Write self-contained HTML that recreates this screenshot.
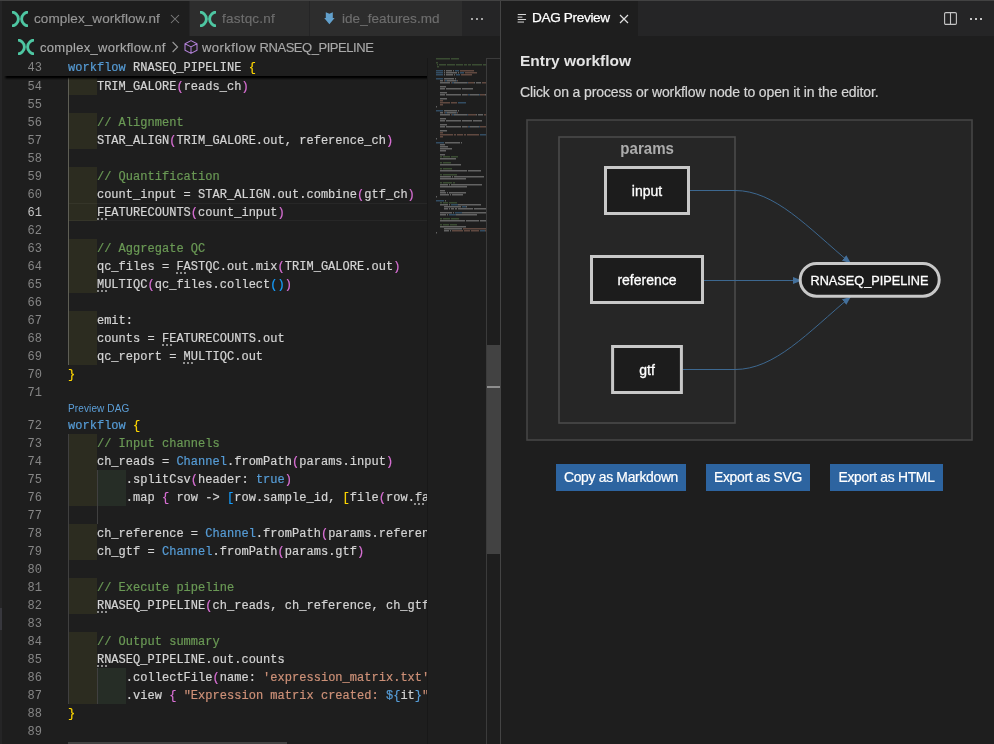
<!DOCTYPE html>
<html><head><meta charset="utf-8"><style>
*{margin:0;padding:0;box-sizing:border-box}
html,body{width:994px;height:744px;overflow:hidden;background:#1e1e1e}
body{position:relative;font-family:"Liberation Sans",sans-serif}
.abs{position:absolute}
.ln{position:absolute;left:0;width:42px;text-align:right;font-family:"Liberation Mono",monospace;font-size:12px;line-height:18px;color:#858585;white-space:pre}
.cl{position:absolute;left:68px;font-family:"Liberation Mono",monospace;font-size:12px;line-height:18px;color:#d4d4d4;white-space:pre;-webkit-text-stroke:0.2px currentColor;letter-spacing:0.024px}
.r1{position:absolute;left:68px;width:29px;height:18px;background:#2c2c20}
.r2{position:absolute;left:97px;width:29px;height:18px;background:#262d26}
.g{position:absolute;width:1px;background:#404040}
.dots{position:absolute;height:2px;width:11px;background:repeating-linear-gradient(90deg,#909090 0 2px,transparent 2px 4px)}
.tabt{position:absolute;font-size:13px;white-space:pre;line-height:16px;-webkit-text-stroke:0.15px currentColor}
.ui{-webkit-text-stroke:0.2px currentColor}
</style></head><body><div id="root" style="position:absolute;left:0;top:0;width:994px;height:744px;background:#1e1e1e;will-change:transform">

<div class="abs" style="left:0;top:0;width:994px;height:1px;background:#424242"></div>
<div class="abs" style="left:0;top:1px;width:2px;height:743px;background:#252526"></div>
<div class="abs" style="left:0;top:608px;width:2px;height:22px;background:#37373d"></div>
<div class="abs" style="left:2px;top:1px;width:498px;height:35px;background:#252526"></div>
<div class="abs" style="left:2px;top:1px;width:187px;height:35px;background:#1e1e1e"></div>
<div class="abs" style="left:190px;top:1px;width:119px;height:35px;background:#2d2d2d"></div>
<div class="abs" style="left:310px;top:1px;width:152px;height:35px;background:#2d2d2d"></div>
<svg class="abs" style="left:12px;top:11px" width="16" height="16" viewBox="0 0 16 16"><path d="M-1 1.1A6.917 6.917 0 1 1 -1 14.9M17 1.1A6.917 6.917 0 1 0 17 14.9" fill="none" stroke="#4ec6a2" stroke-width="2.9"/></svg>
<div class="tabt" style="left:34px;top:10.5px;color:#969696;font-size:13.5px;letter-spacing:0.07px">complex_workflow.nf</div>
<svg class="abs" style="left:169.6px;top:14.2px" width="10" height="10" viewBox="0 0 10 10"><path d="M1 1L9 9M9 1L1 9" stroke="#7c7c7c" stroke-width="1.05"/></svg>
<svg class="abs" style="left:200px;top:11px" width="16" height="16" viewBox="0 0 16 16"><path d="M-1 1.1A6.917 6.917 0 1 1 -1 14.9M17 1.1A6.917 6.917 0 1 0 17 14.9" fill="none" stroke="#4ec6a2" stroke-width="2.9"/></svg>
<div class="tabt" style="left:222px;top:10.5px;color:#6e6e6e;font-size:13.5px;letter-spacing:0.22px">fastqc.nf</div>
<svg class="abs" style="left:318px;top:8px" width="24" height="22" viewBox="0 0 24 22"><path d="M7.8 4.3L11.4 5.7L14.8 4.3V10H16.6L11.4 16.2L6.2 10H7.8Z" fill="#62a0cc"/></svg>
<div class="tabt" style="left:342px;top:10.5px;color:#6e6e6e;font-size:13.5px;letter-spacing:0.05px">ide_features.md</div>
<div class="abs" style="left:471px;top:18px;width:2px;height:2px;background:#a6a6a6"></div><div class="abs" style="left:476px;top:18px;width:2px;height:2px;background:#a6a6a6"></div><div class="abs" style="left:481px;top:18px;width:2px;height:2px;background:#a6a6a6"></div>
<svg class="abs" style="left:18px;top:39px" width="16" height="16" viewBox="0 0 16 16"><path d="M-1 1.1A6.917 6.917 0 1 1 -1 14.9M17 1.1A6.917 6.917 0 1 0 17 14.9" fill="none" stroke="#4ec6a2" stroke-width="2.9"/></svg>
<div class="tabt" style="left:40px;top:40px;color:#a9a9a9;letter-spacing:0.3px">complex_workflow.nf</div>
<svg class="abs" style="left:171px;top:41px" width="9" height="12" viewBox="0 0 9 12"><path d="M1.6 1L6.6 6L1.6 11" fill="none" stroke="#9a9a9a" stroke-width="1.1"/></svg>
<svg class="abs" style="left:184px;top:40px" width="14" height="14" viewBox="0 0 14 14"><path d="M7 0.6L13 3.8V10.2L7 13.4L1 10.2V3.8Z M1 3.8L7 6.9L13 3.8 M7 6.9V13.4" fill="none" stroke="#b180d7" stroke-width="1.05" stroke-linejoin="round"/></svg>
<div class="tabt" style="left:202px;top:40px;color:#a9a9a9;letter-spacing:0.43px">workflow</div>
<div class="tabt" style="left:259.6px;top:40px;color:#a9a9a9;letter-spacing:-0.46px">RNASEQ_PIPELINE</div>
<div class="abs" style="left:2px;top:58px;width:426px;height:686px;overflow:hidden">
<div class="r1" style="left:66px;top:19px"></div>
<div class="r1" style="left:66px;top:55px"></div>
<div class="r1" style="left:66px;top:73px"></div>
<div class="r1" style="left:66px;top:109px"></div>
<div class="r1" style="left:66px;top:127px"></div>
<div class="r1" style="left:66px;top:145px"></div>
<div class="r1" style="left:66px;top:181px"></div>
<div class="r1" style="left:66px;top:199px"></div>
<div class="r1" style="left:66px;top:217px"></div>
<div class="r1" style="left:66px;top:253px"></div>
<div class="r1" style="left:66px;top:271px"></div>
<div class="r1" style="left:66px;top:289px"></div>
<div class="r1" style="left:66px;top:376px"></div>
<div class="r1" style="left:66px;top:394px"></div>
<div class="r1" style="left:66px;top:412px"></div>
<div class="r2" style="left:95px;top:412px"></div>
<div class="r1" style="left:66px;top:430px"></div>
<div class="r2" style="left:95px;top:430px"></div>
<div class="r1" style="left:66px;top:466px"></div>
<div class="r1" style="left:66px;top:484px"></div>
<div class="r1" style="left:66px;top:520px"></div>
<div class="r1" style="left:66px;top:538px"></div>
<div class="r1" style="left:66px;top:574px"></div>
<div class="r1" style="left:66px;top:592px"></div>
<div class="r1" style="left:66px;top:610px"></div>
<div class="r2" style="left:95px;top:610px"></div>
<div class="r1" style="left:66px;top:628px"></div>
<div class="r2" style="left:95px;top:628px"></div>
<div class="g" style="left:66px;top:19px;height:288px;background:#5e5e55"></div>
<div class="g" style="left:66px;top:376px;height:270px"></div>
<div class="g" style="left:95px;top:412px;height:54px"></div>
<div class="g" style="left:95px;top:610px;height:36px"></div>
<div class="abs" style="left:67px;top:145px;width:500px;height:18px;border-top:1px solid rgba(255,255,255,0.045);border-bottom:1px solid rgba(255,255,255,0.045)"></div>
<div class="ln" style="top:20px;width:40px;color:#858585">54</div>
<div class="cl" style="left:66px;top:20px"><span style="color:#d4d4d4">    TRIM_GALORE</span><span style="color:#da70d6">(</span><span style="color:#d4d4d4">reads_ch</span><span style="color:#da70d6">)</span></div>
<div class="ln" style="top:38px;width:40px;color:#858585">55</div>
<div class="ln" style="top:56px;width:40px;color:#858585">56</div>
<div class="cl" style="left:66px;top:56px"><span style="color:#6a9955">    // Alignment</span></div>
<div class="ln" style="top:74px;width:40px;color:#858585">57</div>
<div class="cl" style="left:66px;top:74px"><span style="color:#d4d4d4">    STAR_ALIGN</span><span style="color:#da70d6">(</span><span style="color:#d4d4d4">TRIM_GALORE.out, reference_ch</span><span style="color:#da70d6">)</span></div>
<div class="ln" style="top:92px;width:40px;color:#858585">58</div>
<div class="ln" style="top:110px;width:40px;color:#858585">59</div>
<div class="cl" style="left:66px;top:110px"><span style="color:#6a9955">    // Quantification</span></div>
<div class="ln" style="top:128px;width:40px;color:#858585">60</div>
<div class="cl" style="left:66px;top:128px"><span style="color:#d4d4d4">    count_input = STAR_ALIGN.out.combine</span><span style="color:#da70d6">(</span><span style="color:#d4d4d4">gtf_ch</span><span style="color:#da70d6">)</span></div>
<div class="ln" style="top:146px;width:40px;color:#c6c6c6">61</div>
<div class="cl" style="left:66px;top:146px"><span style="color:#d4d4d4">    FEATURECOUNTS</span><span style="color:#da70d6">(</span><span style="color:#d4d4d4">count_input</span><span style="color:#da70d6">)</span></div>
<div class="ln" style="top:164px;width:40px;color:#858585">62</div>
<div class="ln" style="top:182px;width:40px;color:#858585">63</div>
<div class="cl" style="left:66px;top:182px"><span style="color:#6a9955">    // Aggregate QC</span></div>
<div class="ln" style="top:200px;width:40px;color:#858585">64</div>
<div class="cl" style="left:66px;top:200px"><span style="color:#d4d4d4">    qc_files = FASTQC.out.mix</span><span style="color:#da70d6">(</span><span style="color:#d4d4d4">TRIM_GALORE.out</span><span style="color:#da70d6">)</span></div>
<div class="ln" style="top:218px;width:40px;color:#858585">65</div>
<div class="cl" style="left:66px;top:218px"><span style="color:#d4d4d4">    MULTIQC</span><span style="color:#da70d6">(</span><span style="color:#d4d4d4">qc_files.collect</span><span style="color:#179fff">()</span><span style="color:#da70d6">)</span></div>
<div class="ln" style="top:236px;width:40px;color:#858585">66</div>
<div class="ln" style="top:254px;width:40px;color:#858585">67</div>
<div class="cl" style="left:66px;top:254px"><span style="color:#d4d4d4">    emit:</span></div>
<div class="ln" style="top:272px;width:40px;color:#858585">68</div>
<div class="cl" style="left:66px;top:272px"><span style="color:#d4d4d4">    counts = FEATURECOUNTS.out</span></div>
<div class="ln" style="top:290px;width:40px;color:#858585">69</div>
<div class="cl" style="left:66px;top:290px"><span style="color:#d4d4d4">    qc_report = MULTIQC.out</span></div>
<div class="ln" style="top:308px;width:40px;color:#858585">70</div>
<div class="cl" style="left:66px;top:308px"><span style="color:#ffd700">}</span></div>
<div class="ln" style="top:326px;width:40px;color:#858585">71</div>
<div class="ln" style="top:359px;width:40px;color:#858585">72</div>
<div class="cl" style="left:66px;top:359px"><span style="color:#569cd6">workflow</span><span style="color:#d4d4d4"> </span><span style="color:#ffd700">{</span></div>
<div class="ln" style="top:377px;width:40px;color:#858585">73</div>
<div class="cl" style="left:66px;top:377px"><span style="color:#6a9955">    // Input channels</span></div>
<div class="ln" style="top:395px;width:40px;color:#858585">74</div>
<div class="cl" style="left:66px;top:395px"><span style="color:#d4d4d4">    ch_reads = </span><span style="color:#569cd6">Channel</span><span style="color:#d4d4d4">.fromPath</span><span style="color:#da70d6">(</span><span style="color:#d4d4d4">params.input</span><span style="color:#da70d6">)</span></div>
<div class="ln" style="top:413px;width:40px;color:#858585">75</div>
<div class="cl" style="left:66px;top:413px"><span style="color:#d4d4d4">        .splitCsv</span><span style="color:#da70d6">(</span><span style="color:#d4d4d4">header: </span><span style="color:#569cd6">true</span><span style="color:#da70d6">)</span></div>
<div class="ln" style="top:431px;width:40px;color:#858585">76</div>
<div class="cl" style="left:66px;top:431px"><span style="color:#d4d4d4">        .map </span><span style="color:#da70d6">{</span><span style="color:#d4d4d4"> row -&gt; </span><span style="color:#179fff">[</span><span style="color:#d4d4d4">row.sample_id, </span><span style="color:#ffd700">[</span><span style="color:#d4d4d4">file</span><span style="color:#da70d6">(</span><span style="color:#d4d4d4">row.fa</span></div>
<div class="ln" style="top:449px;width:40px;color:#858585">77</div>
<div class="ln" style="top:467px;width:40px;color:#858585">78</div>
<div class="cl" style="left:66px;top:467px"><span style="color:#d4d4d4">    ch_reference = </span><span style="color:#569cd6">Channel</span><span style="color:#d4d4d4">.fromPath</span><span style="color:#da70d6">(</span><span style="color:#d4d4d4">params.referen</span></div>
<div class="ln" style="top:485px;width:40px;color:#858585">79</div>
<div class="cl" style="left:66px;top:485px"><span style="color:#d4d4d4">    ch_gtf = </span><span style="color:#569cd6">Channel</span><span style="color:#d4d4d4">.fromPath</span><span style="color:#da70d6">(</span><span style="color:#d4d4d4">params.gtf</span><span style="color:#da70d6">)</span></div>
<div class="ln" style="top:503px;width:40px;color:#858585">80</div>
<div class="ln" style="top:521px;width:40px;color:#858585">81</div>
<div class="cl" style="left:66px;top:521px"><span style="color:#6a9955">    // Execute pipeline</span></div>
<div class="ln" style="top:539px;width:40px;color:#858585">82</div>
<div class="cl" style="left:66px;top:539px"><span style="color:#d4d4d4">    RNASEQ_PIPELINE</span><span style="color:#da70d6">(</span><span style="color:#d4d4d4">ch_reads, ch_reference, ch_gtf</span></div>
<div class="ln" style="top:557px;width:40px;color:#858585">83</div>
<div class="ln" style="top:575px;width:40px;color:#858585">84</div>
<div class="cl" style="left:66px;top:575px"><span style="color:#6a9955">    // Output summary</span></div>
<div class="ln" style="top:593px;width:40px;color:#858585">85</div>
<div class="cl" style="left:66px;top:593px"><span style="color:#d4d4d4">    RNASEQ_PIPELINE.out.counts</span></div>
<div class="ln" style="top:611px;width:40px;color:#858585">86</div>
<div class="cl" style="left:66px;top:611px"><span style="color:#d4d4d4">        .collectFile</span><span style="color:#da70d6">(</span><span style="color:#d4d4d4">name: </span><span style="color:#ce9178">&#x27;expression_matrix.txt&#x27;</span></div>
<div class="ln" style="top:629px;width:40px;color:#858585">87</div>
<div class="cl" style="left:66px;top:629px"><span style="color:#d4d4d4">        .view </span><span style="color:#da70d6">{</span><span style="color:#d4d4d4"> </span><span style="color:#ce9178">&quot;Expression matrix created: </span><span style="color:#569cd6">${</span><span style="color:#d4d4d4">it</span><span style="color:#569cd6">}</span><span style="color:#ce9178">&quot;</span></div>
<div class="ln" style="top:647px;width:40px;color:#858585">88</div>
<div class="cl" style="left:66px;top:647px"><span style="color:#ffd700">}</span></div>
<div class="ln" style="top:665px;width:40px;color:#858585">89</div>
<div class="dots" style="left:94.5px;top:160px"></div>
<div class="dots" style="left:174.0px;top:214px"></div>
<div class="dots" style="left:94.5px;top:232px"></div>
<div class="dots" style="left:159.5px;top:286px"></div>
<div class="dots" style="left:181.2px;top:304px"></div>
<div class="dots" style="left:412.4px;top:445px"></div>
<div class="dots" style="left:94.5px;top:553px"></div>
<div class="dots" style="left:94.5px;top:607px"></div>
<div class="abs" style="left:66px;top:343px;font-size:10px;line-height:15px;color:#5c9fd8;white-space:pre;letter-spacing:0.12px">Preview DAG</div>
<div class="abs" style="left:0;top:0;width:426px;height:18px;background:#1e1e1e"></div>
<div class="abs" style="left:2px;top:18px;width:430px;height:4px;background:linear-gradient(180deg,#000 0,#000 1.2px,rgba(0,0,0,0.55) 2.2px,rgba(0,0,0,0) 4px);-webkit-mask-image:linear-gradient(90deg,transparent 0,#000 3px)"></div>
<div class="ln" style="top:1px;width:40px">43</div>
<div class="cl" style="left:66px;top:1px"><span style="color:#569cd6">workflow</span> RNASEQ_PIPELINE <span style="color:#ffd700">{</span></div>
<div class="abs" style="left:66px;top:684px;width:219px;height:4px;background:#424242"></div>
</div>
<div class="abs" style="left:427px;top:58px;width:1px;height:686px;background:#181818"></div>
<svg class="abs" style="left:430px;top:58px" width="56" height="200" viewBox="0 0 56 200">
<rect x="6" y="0" width="14" height="1.5" fill="#6a9955" opacity="0.38"/>
<rect x="21" y="0" width="8" height="1.5" fill="#6a9955" opacity="0.38"/>
<rect x="6" y="4" width="2" height="1.5" fill="#6a9955" opacity="0.38"/>
<rect x="7" y="6" width="1" height="1.5" fill="#6a9955" opacity="0.38"/>
<rect x="9" y="6" width="7" height="1.5" fill="#6a9955" opacity="0.38"/>
<rect x="17" y="6" width="8" height="1.5" fill="#6a9955" opacity="0.38"/>
<rect x="26" y="6" width="7" height="1.5" fill="#6a9955" opacity="0.38"/>
<rect x="34" y="6" width="3" height="1.5" fill="#6a9955" opacity="0.38"/>
<rect x="38" y="6" width="3" height="1.5" fill="#6a9955" opacity="0.38"/>
<rect x="42" y="6" width="10" height="1.5" fill="#6a9955" opacity="0.38"/>
<rect x="53" y="6" width="7" height="1.5" fill="#6a9955" opacity="0.38"/>
<rect x="7" y="8" width="2" height="1.5" fill="#6a9955" opacity="0.38"/>
<rect x="6" y="12" width="7" height="1.5" fill="#569cd6" opacity="0.38"/>
<rect x="14" y="12" width="1" height="1.5" fill="#d4d4d4" opacity="0.38"/>
<rect x="16" y="12" width="6" height="1.5" fill="#d4d4d4" opacity="0.38"/>
<rect x="23" y="12" width="1" height="1.5" fill="#d4d4d4" opacity="0.38"/>
<rect x="25" y="12" width="4" height="1.5" fill="#569cd6" opacity="0.38"/>
<rect x="30" y="12" width="14" height="1.5" fill="#ce9178" opacity="0.38"/>
<rect x="6" y="14" width="7" height="1.5" fill="#569cd6" opacity="0.38"/>
<rect x="14" y="14" width="1" height="1.5" fill="#d4d4d4" opacity="0.38"/>
<rect x="16" y="14" width="11" height="1.5" fill="#d4d4d4" opacity="0.38"/>
<rect x="28" y="14" width="1" height="1.5" fill="#d4d4d4" opacity="0.38"/>
<rect x="30" y="14" width="4" height="1.5" fill="#569cd6" opacity="0.38"/>
<rect x="35" y="14" width="12" height="1.5" fill="#ce9178" opacity="0.38"/>
<rect x="6" y="16" width="7" height="1.5" fill="#569cd6" opacity="0.38"/>
<rect x="14" y="16" width="1" height="1.5" fill="#d4d4d4" opacity="0.38"/>
<rect x="16" y="16" width="7" height="1.5" fill="#d4d4d4" opacity="0.38"/>
<rect x="24" y="16" width="1" height="1.5" fill="#d4d4d4" opacity="0.38"/>
<rect x="26" y="16" width="4" height="1.5" fill="#569cd6" opacity="0.38"/>
<rect x="31" y="16" width="11" height="1.5" fill="#ce9178" opacity="0.38"/>
<rect x="6" y="20" width="7" height="1.5" fill="#569cd6" opacity="0.38"/>
<rect x="14" y="20" width="10" height="1.5" fill="#d4d4d4" opacity="0.38"/>
<rect x="25" y="20" width="1" height="1.5" fill="#d4d4d4" opacity="0.38"/>
<rect x="10" y="22" width="3" height="1.5" fill="#d4d4d4" opacity="0.38"/>
<rect x="14" y="22" width="1" height="1.5" fill="#ce9178" opacity="0.38"/>
<rect x="15" y="22" width="2" height="1.5" fill="#569cd6" opacity="0.38"/>
<rect x="17" y="22" width="9" height="1.5" fill="#d4d4d4" opacity="0.38"/>
<rect x="26" y="22" width="1" height="1.5" fill="#569cd6" opacity="0.38"/>
<rect x="27" y="22" width="1" height="1.5" fill="#ce9178" opacity="0.38"/>
<rect x="10" y="24" width="10" height="1.5" fill="#d4d4d4" opacity="0.38"/>
<rect x="21" y="24" width="1" height="1.5" fill="#ce9178" opacity="0.38"/>
<rect x="22" y="24" width="2" height="1.5" fill="#569cd6" opacity="0.38"/>
<rect x="24" y="24" width="13" height="1.5" fill="#d4d4d4" opacity="0.38"/>
<rect x="37" y="24" width="1" height="1.5" fill="#569cd6" opacity="0.38"/>
<rect x="38" y="24" width="6" height="1.5" fill="#ce9178" opacity="0.38"/>
<rect x="44" y="24" width="1" height="1.5" fill="#d4d4d4" opacity="0.38"/>
<rect x="46" y="24" width="5" height="1.5" fill="#d4d4d4" opacity="0.38"/>
<rect x="52" y="24" width="6" height="1.5" fill="#ce9178" opacity="0.38"/>
<rect x="10" y="28" width="6" height="1.5" fill="#d4d4d4" opacity="0.38"/>
<rect x="10" y="30" width="5" height="1.5" fill="#d4d4d4" opacity="0.38"/>
<rect x="16" y="30" width="15" height="1.5" fill="#d4d4d4" opacity="0.38"/>
<rect x="32" y="30" width="11" height="1.5" fill="#d4d4d4" opacity="0.38"/>
<rect x="10" y="34" width="7" height="1.5" fill="#d4d4d4" opacity="0.38"/>
<rect x="10" y="36" width="5" height="1.5" fill="#d4d4d4" opacity="0.38"/>
<rect x="16" y="36" width="15" height="1.5" fill="#d4d4d4" opacity="0.38"/>
<rect x="32" y="36" width="5" height="1.5" fill="#d4d4d4" opacity="0.38"/>
<rect x="37" y="36" width="1" height="1.5" fill="#ce9178" opacity="0.38"/>
<rect x="38" y="36" width="2" height="1.5" fill="#569cd6" opacity="0.38"/>
<rect x="40" y="36" width="9" height="1.5" fill="#d4d4d4" opacity="0.38"/>
<rect x="49" y="36" width="1" height="1.5" fill="#569cd6" opacity="0.38"/>
<rect x="50" y="36" width="5" height="1.5" fill="#ce9178" opacity="0.38"/>
<rect x="55" y="36" width="1" height="1.5" fill="#d4d4d4" opacity="0.38"/>
<rect x="10" y="40" width="7" height="1.5" fill="#d4d4d4" opacity="0.38"/>
<rect x="10" y="42" width="3" height="1.5" fill="#ce9178" opacity="0.38"/>
<rect x="10" y="44" width="10" height="1.5" fill="#ce9178" opacity="0.38"/>
<rect x="21" y="44" width="6" height="1.5" fill="#ce9178" opacity="0.38"/>
<rect x="28" y="44" width="8" height="1.5" fill="#569cd6" opacity="0.38"/>
<rect x="10" y="46" width="3" height="1.5" fill="#ce9178" opacity="0.38"/>
<rect x="6" y="48" width="1" height="1.5" fill="#d4d4d4" opacity="0.38"/>
<rect x="6" y="52" width="7" height="1.5" fill="#569cd6" opacity="0.38"/>
<rect x="14" y="52" width="13" height="1.5" fill="#d4d4d4" opacity="0.38"/>
<rect x="28" y="52" width="1" height="1.5" fill="#d4d4d4" opacity="0.38"/>
<rect x="10" y="54" width="3" height="1.5" fill="#d4d4d4" opacity="0.38"/>
<rect x="14" y="54" width="1" height="1.5" fill="#ce9178" opacity="0.38"/>
<rect x="15" y="54" width="2" height="1.5" fill="#569cd6" opacity="0.38"/>
<rect x="17" y="54" width="9" height="1.5" fill="#d4d4d4" opacity="0.38"/>
<rect x="26" y="54" width="1" height="1.5" fill="#569cd6" opacity="0.38"/>
<rect x="27" y="54" width="1" height="1.5" fill="#ce9178" opacity="0.38"/>
<rect x="10" y="56" width="10" height="1.5" fill="#d4d4d4" opacity="0.38"/>
<rect x="21" y="56" width="1" height="1.5" fill="#ce9178" opacity="0.38"/>
<rect x="22" y="56" width="2" height="1.5" fill="#569cd6" opacity="0.38"/>
<rect x="24" y="56" width="13" height="1.5" fill="#d4d4d4" opacity="0.38"/>
<rect x="37" y="56" width="1" height="1.5" fill="#569cd6" opacity="0.38"/>
<rect x="38" y="56" width="8" height="1.5" fill="#ce9178" opacity="0.38"/>
<rect x="46" y="56" width="1" height="1.5" fill="#d4d4d4" opacity="0.38"/>
<rect x="48" y="56" width="5" height="1.5" fill="#d4d4d4" opacity="0.38"/>
<rect x="54" y="56" width="6" height="1.5" fill="#ce9178" opacity="0.38"/>
<rect x="10" y="60" width="6" height="1.5" fill="#d4d4d4" opacity="0.38"/>
<rect x="10" y="62" width="5" height="1.5" fill="#d4d4d4" opacity="0.38"/>
<rect x="16" y="62" width="15" height="1.5" fill="#d4d4d4" opacity="0.38"/>
<rect x="32" y="62" width="10" height="1.5" fill="#d4d4d4" opacity="0.38"/>
<rect x="43" y="62" width="9" height="1.5" fill="#d4d4d4" opacity="0.38"/>
<rect x="10" y="66" width="7" height="1.5" fill="#d4d4d4" opacity="0.38"/>
<rect x="10" y="68" width="5" height="1.5" fill="#d4d4d4" opacity="0.38"/>
<rect x="16" y="68" width="15" height="1.5" fill="#d4d4d4" opacity="0.38"/>
<rect x="32" y="68" width="5" height="1.5" fill="#d4d4d4" opacity="0.38"/>
<rect x="37" y="68" width="1" height="1.5" fill="#ce9178" opacity="0.38"/>
<rect x="38" y="68" width="2" height="1.5" fill="#569cd6" opacity="0.38"/>
<rect x="40" y="68" width="9" height="1.5" fill="#d4d4d4" opacity="0.38"/>
<rect x="49" y="68" width="1" height="1.5" fill="#569cd6" opacity="0.38"/>
<rect x="50" y="68" width="8" height="1.5" fill="#ce9178" opacity="0.38"/>
<rect x="58" y="68" width="1" height="1.5" fill="#d4d4d4" opacity="0.38"/>
<rect x="10" y="72" width="7" height="1.5" fill="#d4d4d4" opacity="0.38"/>
<rect x="10" y="74" width="3" height="1.5" fill="#ce9178" opacity="0.38"/>
<rect x="10" y="76" width="13" height="1.5" fill="#ce9178" opacity="0.38"/>
<rect x="24" y="76" width="2" height="1.5" fill="#ce9178" opacity="0.38"/>
<rect x="27" y="76" width="6" height="1.5" fill="#ce9178" opacity="0.38"/>
<rect x="34" y="76" width="2" height="1.5" fill="#ce9178" opacity="0.38"/>
<rect x="37" y="76" width="12" height="1.5" fill="#ce9178" opacity="0.38"/>
<rect x="50" y="76" width="6" height="1.5" fill="#569cd6" opacity="0.38"/>
<rect x="10" y="78" width="3" height="1.5" fill="#ce9178" opacity="0.38"/>
<rect x="6" y="80" width="1" height="1.5" fill="#d4d4d4" opacity="0.38"/>
<rect x="6" y="84" width="8" height="1.5" fill="#569cd6" opacity="0.38"/>
<rect x="15" y="84" width="15" height="1.5" fill="#d4d4d4" opacity="0.38"/>
<rect x="31" y="84" width="1" height="1.5" fill="#d4d4d4" opacity="0.38"/>
<rect x="10" y="86" width="5" height="1.5" fill="#d4d4d4" opacity="0.38"/>
<rect x="10" y="88" width="8" height="1.5" fill="#d4d4d4" opacity="0.38"/>
<rect x="10" y="90" width="12" height="1.5" fill="#d4d4d4" opacity="0.38"/>
<rect x="10" y="92" width="6" height="1.5" fill="#d4d4d4" opacity="0.38"/>
<rect x="10" y="96" width="5" height="1.5" fill="#d4d4d4" opacity="0.38"/>
<rect x="10" y="98" width="2" height="1.5" fill="#6a9955" opacity="0.38"/>
<rect x="13" y="98" width="7" height="1.5" fill="#6a9955" opacity="0.38"/>
<rect x="21" y="98" width="7" height="1.5" fill="#6a9955" opacity="0.38"/>
<rect x="10" y="100" width="16" height="1.5" fill="#d4d4d4" opacity="0.38"/>
<rect x="10" y="104" width="2" height="1.5" fill="#6a9955" opacity="0.38"/>
<rect x="13" y="104" width="8" height="1.5" fill="#6a9955" opacity="0.38"/>
<rect x="10" y="106" width="21" height="1.5" fill="#d4d4d4" opacity="0.38"/>
<rect x="10" y="110" width="2" height="1.5" fill="#6a9955" opacity="0.38"/>
<rect x="13" y="110" width="9" height="1.5" fill="#6a9955" opacity="0.38"/>
<rect x="10" y="112" width="27" height="1.5" fill="#d4d4d4" opacity="0.38"/>
<rect x="38" y="112" width="13" height="1.5" fill="#d4d4d4" opacity="0.38"/>
<rect x="10" y="116" width="2" height="1.5" fill="#6a9955" opacity="0.38"/>
<rect x="13" y="116" width="14" height="1.5" fill="#6a9955" opacity="0.38"/>
<rect x="10" y="118" width="11" height="1.5" fill="#d4d4d4" opacity="0.38"/>
<rect x="22" y="118" width="1" height="1.5" fill="#d4d4d4" opacity="0.38"/>
<rect x="24" y="118" width="30" height="1.5" fill="#d4d4d4" opacity="0.38"/>
<rect x="10" y="120" width="26" height="1.5" fill="#d4d4d4" opacity="0.38"/>
<rect x="10" y="124" width="2" height="1.5" fill="#6a9955" opacity="0.38"/>
<rect x="13" y="124" width="9" height="1.5" fill="#6a9955" opacity="0.38"/>
<rect x="23" y="124" width="2" height="1.5" fill="#6a9955" opacity="0.38"/>
<rect x="10" y="126" width="8" height="1.5" fill="#d4d4d4" opacity="0.38"/>
<rect x="19" y="126" width="1" height="1.5" fill="#d4d4d4" opacity="0.38"/>
<rect x="21" y="126" width="31" height="1.5" fill="#d4d4d4" opacity="0.38"/>
<rect x="10" y="128" width="27" height="1.5" fill="#d4d4d4" opacity="0.38"/>
<rect x="10" y="132" width="5" height="1.5" fill="#d4d4d4" opacity="0.38"/>
<rect x="10" y="134" width="6" height="1.5" fill="#d4d4d4" opacity="0.38"/>
<rect x="17" y="134" width="1" height="1.5" fill="#d4d4d4" opacity="0.38"/>
<rect x="19" y="134" width="17" height="1.5" fill="#d4d4d4" opacity="0.38"/>
<rect x="10" y="136" width="9" height="1.5" fill="#d4d4d4" opacity="0.38"/>
<rect x="20" y="136" width="1" height="1.5" fill="#d4d4d4" opacity="0.38"/>
<rect x="22" y="136" width="11" height="1.5" fill="#d4d4d4" opacity="0.38"/>
<rect x="6" y="138" width="1" height="1.5" fill="#d4d4d4" opacity="0.38"/>
<rect x="6" y="142" width="8" height="1.5" fill="#569cd6" opacity="0.38"/>
<rect x="15" y="142" width="1" height="1.5" fill="#d4d4d4" opacity="0.38"/>
<rect x="10" y="144" width="2" height="1.5" fill="#6a9955" opacity="0.38"/>
<rect x="13" y="144" width="5" height="1.5" fill="#6a9955" opacity="0.38"/>
<rect x="19" y="144" width="8" height="1.5" fill="#6a9955" opacity="0.38"/>
<rect x="10" y="146" width="8" height="1.5" fill="#d4d4d4" opacity="0.38"/>
<rect x="19" y="146" width="1" height="1.5" fill="#d4d4d4" opacity="0.38"/>
<rect x="21" y="146" width="7" height="1.5" fill="#569cd6" opacity="0.38"/>
<rect x="28" y="146" width="23" height="1.5" fill="#d4d4d4" opacity="0.38"/>
<rect x="14" y="148" width="17" height="1.5" fill="#d4d4d4" opacity="0.38"/>
<rect x="32" y="148" width="4" height="1.5" fill="#569cd6" opacity="0.38"/>
<rect x="36" y="148" width="1" height="1.5" fill="#d4d4d4" opacity="0.38"/>
<rect x="14" y="150" width="4" height="1.5" fill="#d4d4d4" opacity="0.38"/>
<rect x="19" y="150" width="1" height="1.5" fill="#d4d4d4" opacity="0.38"/>
<rect x="21" y="150" width="3" height="1.5" fill="#d4d4d4" opacity="0.38"/>
<rect x="25" y="150" width="2" height="1.5" fill="#d4d4d4" opacity="0.38"/>
<rect x="28" y="150" width="15" height="1.5" fill="#d4d4d4" opacity="0.38"/>
<rect x="44" y="150" width="20" height="1.5" fill="#d4d4d4" opacity="0.38"/>
<rect x="65" y="150" width="1" height="1.5" fill="#d4d4d4" opacity="0.38"/>
<rect x="10" y="154" width="12" height="1.5" fill="#d4d4d4" opacity="0.38"/>
<rect x="23" y="154" width="1" height="1.5" fill="#d4d4d4" opacity="0.38"/>
<rect x="25" y="154" width="7" height="1.5" fill="#569cd6" opacity="0.38"/>
<rect x="32" y="154" width="27" height="1.5" fill="#d4d4d4" opacity="0.38"/>
<rect x="10" y="156" width="6" height="1.5" fill="#d4d4d4" opacity="0.38"/>
<rect x="17" y="156" width="1" height="1.5" fill="#d4d4d4" opacity="0.38"/>
<rect x="19" y="156" width="7" height="1.5" fill="#569cd6" opacity="0.38"/>
<rect x="26" y="156" width="21" height="1.5" fill="#d4d4d4" opacity="0.38"/>
<rect x="10" y="160" width="2" height="1.5" fill="#6a9955" opacity="0.38"/>
<rect x="13" y="160" width="7" height="1.5" fill="#6a9955" opacity="0.38"/>
<rect x="21" y="160" width="8" height="1.5" fill="#6a9955" opacity="0.38"/>
<rect x="10" y="162" width="25" height="1.5" fill="#d4d4d4" opacity="0.38"/>
<rect x="36" y="162" width="13" height="1.5" fill="#d4d4d4" opacity="0.38"/>
<rect x="50" y="162" width="7" height="1.5" fill="#d4d4d4" opacity="0.38"/>
<rect x="10" y="166" width="2" height="1.5" fill="#6a9955" opacity="0.38"/>
<rect x="13" y="166" width="6" height="1.5" fill="#6a9955" opacity="0.38"/>
<rect x="20" y="166" width="7" height="1.5" fill="#6a9955" opacity="0.38"/>
<rect x="10" y="168" width="26" height="1.5" fill="#d4d4d4" opacity="0.38"/>
<rect x="14" y="170" width="18" height="1.5" fill="#d4d4d4" opacity="0.38"/>
<rect x="33" y="170" width="24" height="1.5" fill="#ce9178" opacity="0.38"/>
<rect x="14" y="172" width="5" height="1.5" fill="#d4d4d4" opacity="0.38"/>
<rect x="20" y="172" width="1" height="1.5" fill="#d4d4d4" opacity="0.38"/>
<rect x="22" y="172" width="11" height="1.5" fill="#ce9178" opacity="0.38"/>
<rect x="34" y="172" width="6" height="1.5" fill="#ce9178" opacity="0.38"/>
<rect x="41" y="172" width="8" height="1.5" fill="#ce9178" opacity="0.38"/>
<rect x="50" y="172" width="5" height="1.5" fill="#569cd6" opacity="0.38"/>
<rect x="55" y="172" width="1" height="1.5" fill="#ce9178" opacity="0.38"/>
<rect x="57" y="172" width="1" height="1.5" fill="#d4d4d4" opacity="0.38"/>
<rect x="6" y="174" width="1" height="1.5" fill="#d4d4d4" opacity="0.38"/>
</svg>
<div class="abs" style="left:486px;top:58px;width:1px;height:686px;background:#3b3b3b"></div>
<div class="abs" style="left:486px;top:58px;width:14px;height:1px;background:#3b3b3b"></div>
<div class="abs" style="left:487px;top:345px;width:13px;height:209px;background:#424242"></div>
<div class="abs" style="left:487px;top:386px;width:13px;height:2px;background:#8e8e8e"></div>
<div class="abs" style="left:500px;top:1px;width:1px;height:743px;background:#444"></div>
<div class="abs" style="left:501px;top:1px;width:493px;height:35px;background:#252526"></div>
<div class="abs" style="left:501px;top:1px;width:137px;height:35px;background:#1e1e1e"></div>
<svg class="abs" style="left:512px;top:8px" width="20" height="20" viewBox="0 0 20 20"><rect x="5.6" y="6" width="8.5" height="1.1" rx="0.5" fill="#d8d8d8"/><rect x="5.6" y="8.5" width="4.8" height="1.3" fill="#b0b0b0"/><rect x="5.6" y="11" width="8.5" height="1.1" rx="0.5" fill="#d8d8d8"/><rect x="5.6" y="13.4" width="6.4" height="1.3" fill="#b0b0b0"/></svg>
<div class="tabt" style="left:532px;top:10px;color:#ffffff;font-size:13.6px;letter-spacing:-0.35px;-webkit-text-stroke:0.25px #fff">DAG Preview</div>
<svg class="abs" style="left:619px;top:14px" width="10" height="10" viewBox="0 0 10 10"><path d="M1 1L9 9M9 1L1 9" stroke="#e0e0e0" stroke-width="1.2"/></svg>
<svg class="abs" style="left:944px;top:12px" width="13" height="13" viewBox="0 0 13 13"><rect x="0.6" y="0.6" width="11.8" height="11.8" rx="1.2" fill="none" stroke="#c5c5c5" stroke-width="1.1"/><path d="M6.5 0.6V12.4" stroke="#c5c5c5" stroke-width="1.1"/></svg>
<div class="abs" style="left:970px;top:18px;width:2px;height:2px;background:#c5c5c5"></div><div class="abs" style="left:975px;top:18px;width:2px;height:2px;background:#c5c5c5"></div><div class="abs" style="left:980px;top:18px;width:2px;height:2px;background:#c5c5c5"></div>
<div class="abs" style="left:520px;top:51.5px;font-size:15.5px;font-weight:bold;color:#e4e4e4;white-space:pre;line-height:18px;letter-spacing:0px">Entry workflow</div>
<div class="abs ui" style="left:520px;top:83.5px;font-size:14px;color:#d6d6d6;white-space:pre;line-height:16px;letter-spacing:-0.12px">Click on a process or workflow node to open it in the editor.</div>
<svg class="abs" style="left:0;top:0" width="994" height="744" viewBox="0 0 994 744">
<defs><marker id="ah" markerWidth="10" markerHeight="10" refX="9" refY="5" orient="auto" markerUnits="userSpaceOnUse"><path d="M0 1.5L9 5L0 8.5Z" fill="#44709b"/></marker></defs>
<rect x="527" y="120" width="445" height="320" fill="#252525" stroke="#454545" stroke-width="1.6"/>
<rect x="559" y="137" width="176" height="286" fill="#262626" stroke="#4a4a4a" stroke-width="1.6"/>
<text x="620.3" y="154.1" textLength="53.7" lengthAdjust="spacingAndGlyphs" font-family="Liberation Sans" font-size="15.8" font-weight="bold" fill="#acacac">params</text>
<path d="M690 190.5H735C775 190.5 807.5 227.1 851 263.6" fill="none" stroke="#3d6890" stroke-width="1" marker-end="url(#ah)"/>
<path d="M704 280.5H802" fill="none" stroke="#3d6890" stroke-width="1" marker-end="url(#ah)"/>
<path d="M683 369.5H735C775 369.5 807.5 332.9 851 296.4" fill="none" stroke="#3d6890" stroke-width="1" marker-end="url(#ah)"/>
<rect x="605.5" y="167.5" width="83" height="46" fill="#1c1c1c" stroke="#c8c8c8" stroke-width="3"/>
<text x="647" y="196" text-anchor="middle" font-family="Liberation Sans" font-size="14" fill="#ffffff" stroke="#ffffff" stroke-width="0.3">input</text>
<rect x="591.5" y="256.5" width="111" height="46" fill="#1c1c1c" stroke="#c8c8c8" stroke-width="3"/>
<text x="647" y="285" text-anchor="middle" font-family="Liberation Sans" font-size="14" fill="#ffffff" stroke="#ffffff" stroke-width="0.3">reference</text>
<rect x="612.6" y="346.5" width="68.8" height="46" fill="#1c1c1c" stroke="#c8c8c8" stroke-width="3"/>
<text x="647" y="375" text-anchor="middle" font-family="Liberation Sans" font-size="14" fill="#ffffff" stroke="#ffffff" stroke-width="0.3">gtf</text>
<rect x="800.2" y="263.5" width="139" height="32.7" rx="16.35" fill="#1c1c1c" stroke="#c8c8c8" stroke-width="3"/>
<text x="810.5" y="284.7" textLength="118" lengthAdjust="spacingAndGlyphs" font-family="Liberation Sans" font-size="13.6" fill="#ffffff" stroke="#ffffff" stroke-width="0.3">RNASEQ_PIPELINE</text>
</svg>
<div class="abs ui" style="left:556px;top:464px;width:130px;height:27px;background:#2d64a0;color:#fff;font-size:13.9px;letter-spacing:-0.3px;line-height:26px;text-align:center;white-space:pre">Copy as Markdown</div>
<div class="abs ui" style="left:706px;top:464px;width:104px;height:27px;background:#2d64a0;color:#fff;font-size:13.9px;letter-spacing:-0.3px;line-height:26px;text-align:center;white-space:pre">Export as SVG</div>
<div class="abs ui" style="left:830px;top:464px;width:113px;height:27px;background:#2d64a0;color:#fff;font-size:13.9px;letter-spacing:-0.3px;line-height:26px;text-align:center;white-space:pre">Export as HTML</div>
</div></body></html>
